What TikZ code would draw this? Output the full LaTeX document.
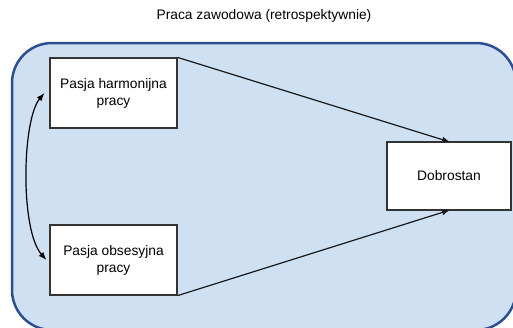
\documentclass[tikz,border=0pt]{standalone}
\usepackage{fontspec}
\setmainfont{Liberation Sans}
\usetikzlibrary{arrows.meta}
\definecolor{bgfill}{HTML}{CFE0F3}
\definecolor{bgline}{HTML}{2B5090}
\tikzset{
  varbox/.style={draw=black!80, fill=white, line width=1.2pt, inner sep=0pt, align=center, font=\fontsize{13.8}{17}\selectfont},
  conn/.style={line width=1.2pt, draw=black!90, -{Latex[length=8pt,width=6pt]}}
}
\begin{document}
\begin{tikzpicture}[x=1pt,y=-1pt]
\useasboundingbox (0,0) rectangle (513,327);
\begin{scope}
\clip (0,0) rectangle (513,327);
\draw[fill=bgfill, draw=bgline, line width=2.5pt, rounded corners=40pt] (12,43) rectangle (516,330);
\end{scope}
\node[font=\fontsize{13.8}{17}\selectfont] (title) at (264,16) {Praca zawodowa (retrospektywnie)};
\node[varbox, minimum width=127pt, minimum height=70pt] (harm) at (113.5,93) {Pasja harmonijna\\pracy};
\node[varbox, minimum width=127pt, minimum height=70pt] (obs) at (113.5,260) {Pasja obsesyjna\\pracy};
\node[varbox, minimum width=124pt, minimum height=68pt] (dob) at (449,176) {Dobrostan};
\coordinate (dt) at (450,142);
\coordinate (db) at (450,210);
\draw[conn] (harm.north east) -- (dt);
\draw[conn] (obs.south east) -- (db);
\draw[line width=1.2pt, {Latex[length=8pt,width=6pt]}-{Latex[length=8pt,width=6pt]}] ([xshift=-5pt]harm.west) .. controls (22,120) and (20,230) .. ([xshift=-3pt]obs.west);
\end{tikzpicture}
\end{document}
